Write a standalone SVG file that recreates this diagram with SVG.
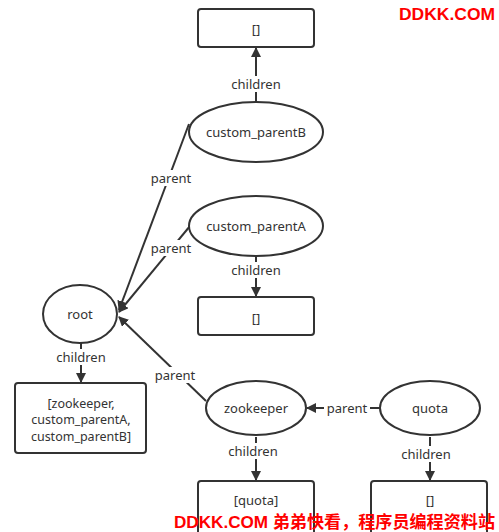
<svg xmlns="http://www.w3.org/2000/svg" width="499" height="532" viewBox="0 0 499 532">
<defs>
<marker id="ah" viewBox="0 0 10 10" refX="9" refY="5" markerWidth="10" markerHeight="10" markerUnits="userSpaceOnUse" orient="auto">
<path d="M0,0 L10,5 L0,10 z" fill="#333"/>
</marker>
</defs>
<style>
.n{fill:#fff;stroke:#333;stroke-width:2}
.t{font-family:"Noto Sans","DejaVu Sans",sans-serif;font-size:13px;fill:#333;text-anchor:middle;dominant-baseline:central}
.s{font-size:12.5px}
.c{stroke:#333;stroke-width:2;fill:none}
.lb{fill:#fff}
.wm{font-family:"Liberation Sans","Noto Sans CJK SC",sans-serif;font-weight:bold;fill:#ff0000;font-size:17px}
</style>
<g id="connectors">
<line class="c" x1="256" y1="102" x2="256" y2="48" marker-end="url(#ah)"/>
<line class="c" x1="256" y1="256" x2="256" y2="296" marker-end="url(#ah)"/>
<line class="c" x1="81" y1="343" x2="81" y2="382" marker-end="url(#ah)"/>
<line class="c" x1="189" y1="124" x2="119" y2="310" marker-end="url(#ah)"/>
<line class="c" x1="190" y1="226" x2="119" y2="312" marker-end="url(#ah)"/>
<line class="c" x1="206" y1="401" x2="119" y2="317" marker-end="url(#ah)"/>
<line class="c" x1="380" y1="408" x2="307" y2="408" marker-end="url(#ah)"/>
<line class="c" x1="256" y1="437" x2="256" y2="480" marker-end="url(#ah)"/>
<line class="c" x1="430" y1="437" x2="430" y2="480" marker-end="url(#ah)"/>
<rect class="lb" x="228" y="76" width="56" height="16"/>
<text class="t" x="256" y="84">children</text>
<rect class="lb" x="228" y="262" width="56" height="16"/>
<text class="t" x="256" y="270">children</text>
<rect class="lb" x="53" y="349" width="56" height="16"/>
<text class="t" x="81" y="357">children</text>
<rect class="lb" x="148" y="170" width="46" height="16"/>
<text class="t" x="171" y="178">parent</text>
<rect class="lb" x="148" y="240" width="46" height="16"/>
<text class="t" x="171" y="248">parent</text>
<rect class="lb" x="152" y="367" width="46" height="16"/>
<text class="t" x="175" y="375">parent</text>
<rect class="lb" x="324" y="400" width="46" height="16"/>
<text class="t" x="347" y="408">parent</text>
<rect class="lb" x="225" y="443" width="56" height="16"/>
<text class="t" x="253" y="451">children</text>
<rect class="lb" x="398" y="446" width="56" height="16"/>
<text class="t" x="426" y="454">children</text>
</g>
<g id="box-top">
<rect class="n" x="198" y="9" width="116" height="38" rx="3"/>
<text class="t" x="256" y="29">[]</text>
</g>
<g id="custom_parentB">
<ellipse class="n" cx="256" cy="132" rx="67" ry="30"/>
<text class="t" x="256" y="132">custom_parentB</text>
</g>
<g id="custom_parentA">
<ellipse class="n" cx="256" cy="226" rx="67" ry="30"/>
<text class="t" x="256" y="226">custom_parentA</text>
</g>
<g id="box-a">
<rect class="n" x="198" y="297" width="116" height="38" rx="3"/>
<text class="t" x="256" y="318">[]</text>
</g>
<g id="root">
<ellipse class="n" cx="80" cy="314" rx="37" ry="29"/>
<text class="t" x="80" y="314">root</text>
</g>
<g id="box-root">
<rect class="n" x="15" y="383" width="131" height="70" rx="3"/>
<text class="t s" x="81" y="403">[zookeeper,</text>
<text class="t s" x="81" y="419.5">custom_parentA,</text>
<text class="t s" x="81" y="436">custom_parentB]</text>
</g>
<g id="zookeeper">
<ellipse class="n" cx="256" cy="408" rx="50" ry="27"/>
<text class="t" x="256" y="408">zookeeper</text>
</g>
<g id="quota">
<ellipse class="n" cx="430" cy="408" rx="50" ry="27"/>
<text class="t" x="430" y="408">quota</text>
</g>
<g id="box-zk">
<rect class="n" x="198" y="481" width="116" height="60" rx="3"/>
<text class="t" x="256" y="500">[quota]</text>
</g>
<g id="box-quota">
<rect class="n" x="371" y="481" width="116" height="60" rx="3"/>
<text class="t" x="430" y="500">[]</text>
</g>
<g id="watermarks">
<text class="wm" x="399" y="20" textLength="96" lengthAdjust="spacingAndGlyphs">DDKK.COM</text>
<text class="wm" x="174" y="528" textLength="321" lengthAdjust="spacingAndGlyphs">DDKK.COM 弟弟快看，程序员编程资料站</text>
</g>
</svg>
